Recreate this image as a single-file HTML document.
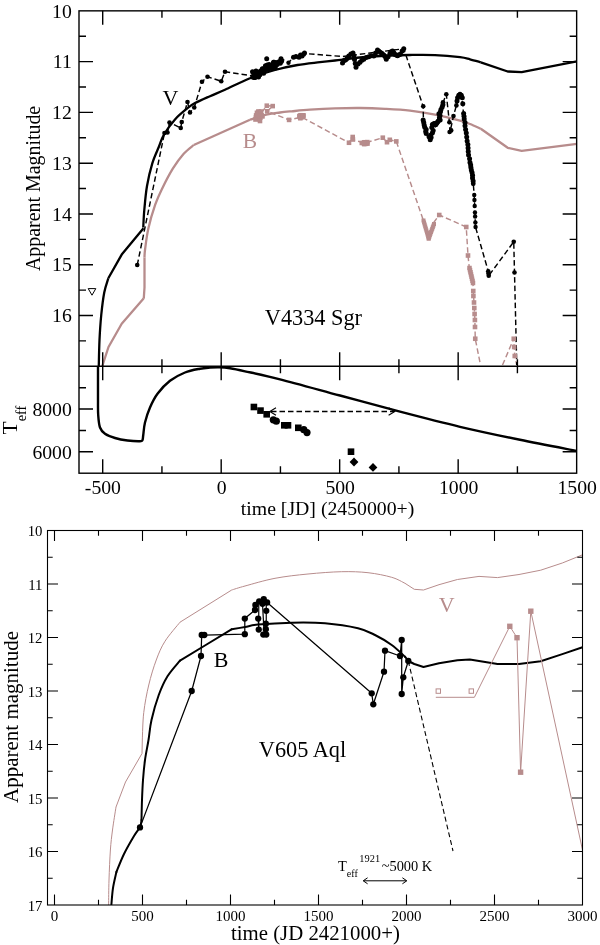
<!DOCTYPE html>
<html><head><meta charset="utf-8"><title>Light curves</title>
<style>html,body{margin:0;padding:0;background:#fff;}svg{display:block;will-change:transform}text{font-family:"Liberation Serif",serif}</style>
</head><body>
<svg width="600" height="945" viewBox="0 0 600 945">
<rect width="600" height="945" fill="#fff"/>
<clipPath id="c1"><rect x="79.0" y="10.85" width="497.65" height="355.45"/></clipPath>
<clipPath id="c2"><rect x="79.0" y="366.3" width="497.65" height="106.89999999999998"/></clipPath>
<g clip-path="url(#c1)" fill="none" stroke-linejoin="round">
<path d="M101.80,367.50 L108.50,347.00 L121.70,323.80 L143.60,298.60" stroke="#b78c8c" stroke-width="2.3"/>
<path d="M144.50,257.50 C144.58,256.25 144.37,254.80 145.00,250.00 C145.63,245.20 146.60,236.25 148.30,228.70 C150.00,221.15 152.90,211.37 155.20,204.70 C157.50,198.03 159.17,194.70 162.10,188.70 C165.03,182.70 169.23,174.48 172.80,168.70 C176.37,162.92 180.01,157.95 183.50,154.00 C186.99,150.05 192.04,146.50 193.75,145.00" stroke="#b78c8c" stroke-width="2.3"/>
<path d="M143.75,298.75 L144.50,287.50 L144.50,257.50" stroke="#b78c8c" stroke-width="2.3"/>
<path d="M250.00,119.70 C252.92,118.80 262.50,115.50 267.50,114.30 C272.50,113.10 275.97,113.00 280.00,112.50 C284.03,112.00 286.70,111.77 291.70,111.30 C296.70,110.83 302.78,110.18 310.00,109.70 C317.22,109.22 326.67,108.68 335.00,108.40 C343.33,108.12 351.67,107.93 360.00,108.00 C368.33,108.07 376.67,108.37 385.00,108.80 C393.33,109.23 401.67,109.63 410.00,110.60 C418.33,111.57 426.67,112.93 435.00,114.60 C443.33,116.27 454.17,119.03 460.00,120.60 C465.83,122.17 466.53,122.65 470.00,124.00 C473.47,125.35 479.00,127.92 480.80,128.70" stroke="#b78c8c" stroke-width="2.3"/>
<path d="M480.80,128.70 L507.70,147.80 L521.70,150.80 L577.00,143.80" stroke="#b78c8c" stroke-width="2.3"/>
<path d="M193.75,145.00 L250.00,119.70" stroke="#b78c8c" stroke-width="2.3"/>
<path d="M98.75,367.50 C98.88,362.92 99.08,348.75 99.50,340.00 C99.92,331.25 100.46,322.92 101.25,315.00 C102.04,307.08 103.08,298.62 104.25,292.50 C105.42,286.38 107.62,280.67 108.30,278.30" stroke="#000" stroke-width="2.3"/>
<path d="M108.30,278.30 L121.70,254.60 L143.50,228.20" stroke="#000" stroke-width="2.3"/>
<path d="M143.25,227.50 C143.43,224.58 143.68,216.92 144.30,210.00 C144.93,203.08 145.67,193.78 147.00,186.00 C148.33,178.22 150.30,169.88 152.30,163.30 C154.30,156.72 157.05,151.30 159.00,146.50 C160.95,141.70 161.33,139.02 164.00,134.50 C166.67,129.98 171.08,123.78 175.00,119.40 C178.92,115.02 184.17,110.92 187.50,108.20 C190.83,105.48 191.25,105.10 195.00,103.10 C198.75,101.10 205.00,98.42 210.00,96.20 C215.00,93.98 218.33,92.80 225.00,89.80 C231.67,86.80 241.67,81.50 250.00,78.20 C258.33,74.90 267.08,72.20 275.00,70.00 C282.92,67.80 290.00,66.30 297.50,65.00 C305.00,63.70 313.75,62.95 320.00,62.20 C326.25,61.45 328.33,61.28 335.00,60.50 C341.67,59.72 351.67,58.29 360.00,57.50 C368.33,56.71 376.67,56.17 385.00,55.75 C393.33,55.33 401.67,55.11 410.00,55.00 C418.33,54.89 426.67,54.73 435.00,55.10 C443.33,55.47 454.17,56.50 460.00,57.20 C465.83,57.90 466.53,58.45 470.00,59.30 C473.47,60.15 479.00,61.80 480.80,62.30" stroke="#000" stroke-width="2.3"/>
<path d="M480.80,62.30 L507.70,71.50 L521.70,72.20 L577.00,61.40" stroke="#000" stroke-width="2.3"/>
<path d="M256.00,119.00 L259.00,116.00 L266.80,105.70 L272.70,106.10 L267.20,111.30 L289.10,119.90 L301.50,117.00 L349.00,142.75 L352.70,137.00 L353.00,140.00 L365.00,143.00 L382.80,137.70 L387.00,142.20 L389.80,139.80 L396.30,141.40 L423.75,221.50 L428.75,238.75 L433.75,222.50 L439.25,215.00 L466.25,227.00 L468.00,255.50 L469.50,270.00 L473.00,282.50 L473.25,291.00 L474.00,302.50 L474.30,308.00 L474.60,314.00 L474.90,320.00 L475.00,327.00 L475.25,338.75 L480.50,365.00" stroke="#b78c8c" stroke-width="1.45" stroke-dasharray="5.5,3"/>
<path d="M502.50,365.00 L513.75,338.75 L514.20,347.00 L514.75,356.00 L516.75,365.00" stroke="#b78c8c" stroke-width="1.45" stroke-dasharray="5.5,3"/>
<path d="M137.25,265.00 L164.50,133.00 L167.50,132.50 L169.50,122.50 L180.75,128.00 L181.75,122.00 L187.50,102.00 L190.00,112.50 L194.25,107.50 L202.00,81.75 L207.50,76.75 L221.25,81.25 L225.00,71.75 L253.50,76.00 L282.00,59.00 L288.50,62.80 L293.50,57.20 L304.50,53.50 L342.50,56.50 L403.75,48.75 L423.20,106.40 L423.40,120.00 L429.60,139.80 L436.00,124.70 L443.00,102.50 L446.30,94.30 L449.40,122.30 L450.00,132.00 L453.50,116.00 L456.40,105.40 L460.00,94.30 L462.80,103.70 L463.40,113.60 L468.70,155.00 L473.25,183.75 L474.25,195.00 L475.50,227.00 L488.25,271.25 L488.75,275.75 L513.75,241.75 L514.50,272.50 L516.75,365.00" stroke="#000" stroke-width="1.45" stroke-dasharray="5.5,3"/>
</g>
<g clip-path="url(#c1)">
<rect x="264.50" y="103.40" width="4.6" height="4.6" fill="#b78c8c"/>
<rect x="270.40" y="103.80" width="4.6" height="4.6" fill="#b78c8c"/>
<rect x="264.90" y="109.00" width="4.6" height="4.6" fill="#b78c8c"/>
<rect x="286.80" y="117.60" width="4.6" height="4.6" fill="#b78c8c"/>
<rect x="346.70" y="140.45" width="4.6" height="4.6" fill="#b78c8c"/>
<rect x="350.40" y="134.70" width="4.6" height="4.6" fill="#b78c8c"/>
<rect x="350.60" y="137.20" width="4.6" height="4.6" fill="#b78c8c"/>
<rect x="380.50" y="135.40" width="4.6" height="4.6" fill="#b78c8c"/>
<rect x="384.70" y="139.90" width="4.6" height="4.6" fill="#b78c8c"/>
<rect x="387.50" y="137.50" width="4.6" height="4.6" fill="#b78c8c"/>
<rect x="394.00" y="139.10" width="4.6" height="4.6" fill="#b78c8c"/>
<rect x="436.95" y="212.70" width="4.6" height="4.6" fill="#b78c8c"/>
<rect x="463.95" y="224.70" width="4.6" height="4.6" fill="#b78c8c"/>
<rect x="465.70" y="253.20" width="4.6" height="4.6" fill="#b78c8c"/>
<rect x="470.95" y="288.70" width="4.6" height="4.6" fill="#b78c8c"/>
<rect x="471.10" y="293.70" width="4.6" height="4.6" fill="#b78c8c"/>
<rect x="471.70" y="300.20" width="4.6" height="4.6" fill="#b78c8c"/>
<rect x="472.00" y="305.70" width="4.6" height="4.6" fill="#b78c8c"/>
<rect x="472.30" y="311.70" width="4.6" height="4.6" fill="#b78c8c"/>
<rect x="472.60" y="317.70" width="4.6" height="4.6" fill="#b78c8c"/>
<rect x="472.70" y="324.70" width="4.6" height="4.6" fill="#b78c8c"/>
<rect x="472.95" y="336.45" width="4.6" height="4.6" fill="#b78c8c"/>
<rect x="511.45" y="336.45" width="4.6" height="4.6" fill="#b78c8c"/>
<rect x="511.90" y="344.70" width="4.6" height="4.6" fill="#b78c8c"/>
<rect x="512.45" y="353.70" width="4.6" height="4.6" fill="#b78c8c"/>
<rect x="257.10" y="117.08" width="4.6" height="4.6" fill="#b78c8c"/>
<rect x="254.99" y="116.31" width="4.6" height="4.6" fill="#b78c8c"/>
<rect x="256.25" y="112.86" width="4.6" height="4.6" fill="#b78c8c"/>
<rect x="260.18" y="114.05" width="4.6" height="4.6" fill="#b78c8c"/>
<rect x="256.80" y="115.92" width="4.6" height="4.6" fill="#b78c8c"/>
<rect x="259.37" y="113.61" width="4.6" height="4.6" fill="#b78c8c"/>
<rect x="258.18" y="110.98" width="4.6" height="4.6" fill="#b78c8c"/>
<rect x="256.00" y="112.33" width="4.6" height="4.6" fill="#b78c8c"/>
<rect x="254.68" y="110.49" width="4.6" height="4.6" fill="#b78c8c"/>
<rect x="253.83" y="113.13" width="4.6" height="4.6" fill="#b78c8c"/>
<rect x="256.47" y="112.68" width="4.6" height="4.6" fill="#b78c8c"/>
<rect x="257.04" y="110.17" width="4.6" height="4.6" fill="#b78c8c"/>
<rect x="256.70" y="114.47" width="4.6" height="4.6" fill="#b78c8c"/>
<rect x="258.54" y="111.33" width="4.6" height="4.6" fill="#b78c8c"/>
<rect x="256.24" y="109.47" width="4.6" height="4.6" fill="#b78c8c"/>
<rect x="256.13" y="109.40" width="4.6" height="4.6" fill="#b78c8c"/>
<rect x="254.35" y="116.22" width="4.6" height="4.6" fill="#b78c8c"/>
<rect x="253.63" y="115.22" width="4.6" height="4.6" fill="#b78c8c"/>
<rect x="257.71" y="112.71" width="4.6" height="4.6" fill="#b78c8c"/>
<rect x="258.00" y="115.32" width="4.6" height="4.6" fill="#b78c8c"/>
<rect x="259.22" y="113.05" width="4.6" height="4.6" fill="#b78c8c"/>
<rect x="255.52" y="111.90" width="4.6" height="4.6" fill="#b78c8c"/>
<rect x="253.20" y="117.20" width="4.6" height="4.6" fill="#b78c8c"/>
<rect x="257.70" y="118.70" width="4.6" height="4.6" fill="#b78c8c"/>
<rect x="258.70" y="109.20" width="4.6" height="4.6" fill="#b78c8c"/>
<rect x="297.59" y="114.64" width="4.6" height="4.6" fill="#b78c8c"/>
<rect x="298.02" y="115.93" width="4.6" height="4.6" fill="#b78c8c"/>
<rect x="297.07" y="113.74" width="4.6" height="4.6" fill="#b78c8c"/>
<rect x="298.16" y="112.95" width="4.6" height="4.6" fill="#b78c8c"/>
<rect x="300.80" y="113.14" width="4.6" height="4.6" fill="#b78c8c"/>
<rect x="298.70" y="113.99" width="4.6" height="4.6" fill="#b78c8c"/>
<rect x="300.84" y="113.19" width="4.6" height="4.6" fill="#b78c8c"/>
<rect x="300.82" y="113.85" width="4.6" height="4.6" fill="#b78c8c"/>
<rect x="298.93" y="113.80" width="4.6" height="4.6" fill="#b78c8c"/>
<rect x="300.17" y="113.38" width="4.6" height="4.6" fill="#b78c8c"/>
<rect x="299.06" y="115.19" width="4.6" height="4.6" fill="#b78c8c"/>
<rect x="300.77" y="113.12" width="4.6" height="4.6" fill="#b78c8c"/>
<rect x="365.13" y="141.31" width="4.6" height="4.6" fill="#b78c8c"/>
<rect x="361.65" y="140.97" width="4.6" height="4.6" fill="#b78c8c"/>
<rect x="361.94" y="141.80" width="4.6" height="4.6" fill="#b78c8c"/>
<rect x="363.17" y="140.50" width="4.6" height="4.6" fill="#b78c8c"/>
<rect x="362.19" y="140.52" width="4.6" height="4.6" fill="#b78c8c"/>
<rect x="362.34" y="139.97" width="4.6" height="4.6" fill="#b78c8c"/>
<rect x="365.02" y="139.82" width="4.6" height="4.6" fill="#b78c8c"/>
<rect x="359.50" y="140.66" width="4.6" height="4.6" fill="#b78c8c"/>
<rect x="362.37" y="141.04" width="4.6" height="4.6" fill="#b78c8c"/>
<rect x="362.24" y="140.56" width="4.6" height="4.6" fill="#b78c8c"/>
<rect x="363.36" y="141.49" width="4.6" height="4.6" fill="#b78c8c"/>
<rect x="361.73" y="140.37" width="4.6" height="4.6" fill="#b78c8c"/>
<rect x="421.50" y="218.50" width="4" height="4" fill="#b78c8c"/>
<rect x="432.00" y="222.00" width="4" height="4" fill="#b78c8c"/>
<rect x="422.08" y="220.50" width="4" height="4" fill="#b78c8c"/>
<rect x="431.41" y="223.61" width="4" height="4" fill="#b78c8c"/>
<rect x="422.66" y="222.50" width="4" height="4" fill="#b78c8c"/>
<rect x="430.82" y="225.22" width="4" height="4" fill="#b78c8c"/>
<rect x="423.23" y="224.50" width="4" height="4" fill="#b78c8c"/>
<rect x="430.23" y="226.83" width="4" height="4" fill="#b78c8c"/>
<rect x="423.81" y="226.50" width="4" height="4" fill="#b78c8c"/>
<rect x="429.64" y="228.44" width="4" height="4" fill="#b78c8c"/>
<rect x="424.39" y="228.50" width="4" height="4" fill="#b78c8c"/>
<rect x="429.06" y="230.06" width="4" height="4" fill="#b78c8c"/>
<rect x="424.97" y="230.50" width="4" height="4" fill="#b78c8c"/>
<rect x="428.47" y="231.67" width="4" height="4" fill="#b78c8c"/>
<rect x="425.54" y="232.50" width="4" height="4" fill="#b78c8c"/>
<rect x="427.88" y="233.28" width="4" height="4" fill="#b78c8c"/>
<rect x="426.12" y="234.50" width="4" height="4" fill="#b78c8c"/>
<rect x="427.29" y="234.89" width="4" height="4" fill="#b78c8c"/>
<rect x="426.70" y="236.50" width="4" height="4" fill="#b78c8c"/>
<rect x="426.70" y="236.50" width="4" height="4" fill="#b78c8c"/>
<rect x="467.25" y="265.75" width="4.5" height="4.5" fill="#b78c8c"/>
<rect x="467.75" y="267.89" width="4.5" height="4.5" fill="#b78c8c"/>
<rect x="468.25" y="270.04" width="4.5" height="4.5" fill="#b78c8c"/>
<rect x="468.75" y="272.18" width="4.5" height="4.5" fill="#b78c8c"/>
<rect x="469.25" y="274.32" width="4.5" height="4.5" fill="#b78c8c"/>
<rect x="469.75" y="276.46" width="4.5" height="4.5" fill="#b78c8c"/>
<rect x="470.25" y="278.61" width="4.5" height="4.5" fill="#b78c8c"/>
<rect x="470.75" y="280.75" width="4.5" height="4.5" fill="#b78c8c"/>
<circle cx="137.25" cy="265.00" r="2.3" fill="#000"/>
<circle cx="164.50" cy="133.00" r="2.3" fill="#000"/>
<circle cx="167.50" cy="132.50" r="2.3" fill="#000"/>
<circle cx="169.50" cy="122.50" r="2.3" fill="#000"/>
<circle cx="180.75" cy="128.00" r="2.3" fill="#000"/>
<circle cx="181.75" cy="122.00" r="2.3" fill="#000"/>
<circle cx="187.50" cy="102.00" r="2.3" fill="#000"/>
<circle cx="190.00" cy="112.50" r="2.3" fill="#000"/>
<circle cx="194.25" cy="107.50" r="2.3" fill="#000"/>
<circle cx="202.00" cy="81.75" r="2.3" fill="#000"/>
<circle cx="207.50" cy="76.75" r="2.3" fill="#000"/>
<circle cx="221.25" cy="81.25" r="2.3" fill="#000"/>
<circle cx="225.00" cy="71.75" r="2.3" fill="#000"/>
<circle cx="423.25" cy="106.25" r="2.3" fill="#000"/>
<circle cx="488.25" cy="271.25" r="2.3" fill="#000"/>
<circle cx="488.75" cy="275.75" r="2.3" fill="#000"/>
<circle cx="488.50" cy="273.50" r="2.3" fill="#000"/>
<circle cx="513.75" cy="241.75" r="2.3" fill="#000"/>
<circle cx="514.50" cy="272.50" r="2.3" fill="#000"/>
<circle cx="252.50" cy="71.80" r="2.5" fill="#000"/>
<circle cx="253.12" cy="77.30" r="2.5" fill="#000"/>
<circle cx="253.73" cy="73.14" r="2.5" fill="#000"/>
<circle cx="254.35" cy="77.38" r="2.5" fill="#000"/>
<circle cx="254.97" cy="76.67" r="2.5" fill="#000"/>
<circle cx="255.59" cy="72.76" r="2.5" fill="#000"/>
<circle cx="256.20" cy="73.06" r="2.5" fill="#000"/>
<circle cx="256.82" cy="73.20" r="2.5" fill="#000"/>
<circle cx="257.44" cy="73.79" r="2.5" fill="#000"/>
<circle cx="258.05" cy="73.18" r="2.5" fill="#000"/>
<circle cx="258.67" cy="72.65" r="2.5" fill="#000"/>
<circle cx="259.29" cy="72.80" r="2.5" fill="#000"/>
<circle cx="259.90" cy="74.77" r="2.5" fill="#000"/>
<circle cx="260.52" cy="71.45" r="2.5" fill="#000"/>
<circle cx="261.14" cy="70.65" r="2.5" fill="#000"/>
<circle cx="261.76" cy="72.39" r="2.5" fill="#000"/>
<circle cx="262.37" cy="68.74" r="2.5" fill="#000"/>
<circle cx="262.99" cy="68.91" r="2.5" fill="#000"/>
<circle cx="263.61" cy="73.37" r="2.5" fill="#000"/>
<circle cx="264.22" cy="69.89" r="2.5" fill="#000"/>
<circle cx="264.84" cy="69.81" r="2.5" fill="#000"/>
<circle cx="265.46" cy="65.77" r="2.5" fill="#000"/>
<circle cx="266.07" cy="68.32" r="2.5" fill="#000"/>
<circle cx="266.69" cy="69.20" r="2.5" fill="#000"/>
<circle cx="267.31" cy="65.00" r="2.5" fill="#000"/>
<circle cx="267.93" cy="68.90" r="2.5" fill="#000"/>
<circle cx="268.54" cy="68.73" r="2.5" fill="#000"/>
<circle cx="269.16" cy="64.45" r="2.5" fill="#000"/>
<circle cx="269.78" cy="68.15" r="2.5" fill="#000"/>
<circle cx="270.39" cy="66.74" r="2.5" fill="#000"/>
<circle cx="271.01" cy="67.96" r="2.5" fill="#000"/>
<circle cx="271.63" cy="65.39" r="2.5" fill="#000"/>
<circle cx="272.24" cy="67.60" r="2.5" fill="#000"/>
<circle cx="272.86" cy="67.54" r="2.5" fill="#000"/>
<circle cx="273.48" cy="62.25" r="2.5" fill="#000"/>
<circle cx="274.10" cy="62.24" r="2.5" fill="#000"/>
<circle cx="274.71" cy="66.27" r="2.5" fill="#000"/>
<circle cx="275.33" cy="68.01" r="2.5" fill="#000"/>
<circle cx="275.95" cy="62.75" r="2.5" fill="#000"/>
<circle cx="276.56" cy="63.91" r="2.5" fill="#000"/>
<circle cx="277.18" cy="64.58" r="2.5" fill="#000"/>
<circle cx="277.80" cy="62.40" r="2.5" fill="#000"/>
<circle cx="278.41" cy="62.43" r="2.5" fill="#000"/>
<circle cx="279.03" cy="61.80" r="2.5" fill="#000"/>
<circle cx="279.65" cy="61.91" r="2.5" fill="#000"/>
<circle cx="280.27" cy="63.22" r="2.5" fill="#000"/>
<circle cx="280.88" cy="60.88" r="2.5" fill="#000"/>
<circle cx="281.50" cy="61.14" r="2.5" fill="#000"/>
<circle cx="253.00" cy="76.50" r="2.5" fill="#000"/>
<circle cx="255.00" cy="77.50" r="2.5" fill="#000"/>
<circle cx="258.50" cy="77.00" r="2.5" fill="#000"/>
<circle cx="256.00" cy="71.00" r="2.5" fill="#000"/>
<circle cx="266.70" cy="58.80" r="2.5" fill="#000"/>
<circle cx="281.00" cy="58.80" r="2.5" fill="#000"/>
<circle cx="259.00" cy="72.00" r="2.5" fill="#000"/>
<circle cx="262.00" cy="70.00" r="2.5" fill="#000"/>
<circle cx="288.50" cy="62.80" r="2.2" fill="#000"/>
<circle cx="293.50" cy="57.20" r="2.5" fill="#000"/>
<circle cx="296.00" cy="56.50" r="2.5" fill="#000"/>
<circle cx="299.00" cy="57.20" r="2.5" fill="#000"/>
<circle cx="300.50" cy="55.00" r="2.5" fill="#000"/>
<circle cx="302.00" cy="56.00" r="2.5" fill="#000"/>
<circle cx="303.50" cy="54.20" r="2.5" fill="#000"/>
<circle cx="304.50" cy="53.00" r="2.5" fill="#000"/>
<circle cx="342.50" cy="62.94" r="2.5" fill="#000"/>
<circle cx="344.00" cy="60.49" r="2.5" fill="#000"/>
<circle cx="345.50" cy="60.11" r="2.5" fill="#000"/>
<circle cx="347.15" cy="58.48" r="2.5" fill="#000"/>
<circle cx="348.80" cy="55.90" r="2.5" fill="#000"/>
<circle cx="350.90" cy="53.91" r="2.5" fill="#000"/>
<circle cx="353.00" cy="52.99" r="2.5" fill="#000"/>
<circle cx="353.75" cy="55.83" r="2.5" fill="#000"/>
<circle cx="354.50" cy="59.50" r="2.5" fill="#000"/>
<circle cx="355.25" cy="63.40" r="2.5" fill="#000"/>
<circle cx="356.00" cy="67.32" r="2.5" fill="#000"/>
<circle cx="358.00" cy="64.11" r="2.5" fill="#000"/>
<circle cx="360.00" cy="62.22" r="2.5" fill="#000"/>
<circle cx="361.88" cy="60.36" r="2.5" fill="#000"/>
<circle cx="363.75" cy="59.28" r="2.5" fill="#000"/>
<circle cx="366.25" cy="57.40" r="2.5" fill="#000"/>
<circle cx="368.75" cy="56.82" r="2.5" fill="#000"/>
<circle cx="371.25" cy="55.72" r="2.5" fill="#000"/>
<circle cx="373.75" cy="55.99" r="2.5" fill="#000"/>
<circle cx="375.62" cy="53.12" r="2.5" fill="#000"/>
<circle cx="377.50" cy="50.12" r="2.5" fill="#000"/>
<circle cx="379.00" cy="51.17" r="2.5" fill="#000"/>
<circle cx="380.50" cy="52.56" r="2.5" fill="#000"/>
<circle cx="382.12" cy="53.39" r="2.5" fill="#000"/>
<circle cx="383.75" cy="55.05" r="2.5" fill="#000"/>
<circle cx="385.00" cy="56.38" r="2.5" fill="#000"/>
<circle cx="386.25" cy="59.24" r="2.5" fill="#000"/>
<circle cx="388.12" cy="56.79" r="2.5" fill="#000"/>
<circle cx="390.00" cy="53.24" r="2.5" fill="#000"/>
<circle cx="391.25" cy="51.77" r="2.5" fill="#000"/>
<circle cx="392.50" cy="50.99" r="2.5" fill="#000"/>
<circle cx="393.75" cy="52.48" r="2.5" fill="#000"/>
<circle cx="395.00" cy="54.49" r="2.5" fill="#000"/>
<circle cx="396.25" cy="54.88" r="2.5" fill="#000"/>
<circle cx="397.50" cy="55.66" r="2.5" fill="#000"/>
<circle cx="399.00" cy="54.67" r="2.5" fill="#000"/>
<circle cx="400.50" cy="54.22" r="2.5" fill="#000"/>
<circle cx="402.12" cy="50.88" r="2.5" fill="#000"/>
<circle cx="403.75" cy="48.75" r="2.5" fill="#000"/>
<circle cx="423.15" cy="120.00" r="2.5" fill="#000"/>
<circle cx="423.72" cy="122.50" r="2.5" fill="#000"/>
<circle cx="424.17" cy="125.00" r="2.5" fill="#000"/>
<circle cx="424.76" cy="127.25" r="2.5" fill="#000"/>
<circle cx="426.17" cy="129.50" r="2.5" fill="#000"/>
<circle cx="425.70" cy="131.50" r="2.5" fill="#000"/>
<circle cx="426.21" cy="133.50" r="2.5" fill="#000"/>
<circle cx="429.01" cy="136.65" r="2.5" fill="#000"/>
<circle cx="430.21" cy="139.80" r="2.5" fill="#000"/>
<circle cx="431.08" cy="137.40" r="2.5" fill="#000"/>
<circle cx="430.89" cy="135.00" r="2.5" fill="#000"/>
<circle cx="432.47" cy="132.75" r="2.5" fill="#000"/>
<circle cx="433.18" cy="130.50" r="2.5" fill="#000"/>
<circle cx="431.81" cy="127.50" r="2.5" fill="#000"/>
<circle cx="432.39" cy="124.50" r="2.5" fill="#000"/>
<circle cx="433.54" cy="124.00" r="2.5" fill="#000"/>
<circle cx="434.26" cy="123.50" r="2.5" fill="#000"/>
<circle cx="435.03" cy="124.10" r="2.5" fill="#000"/>
<circle cx="435.66" cy="124.70" r="2.5" fill="#000"/>
<circle cx="436.75" cy="123.35" r="2.5" fill="#000"/>
<circle cx="437.56" cy="122.00" r="2.5" fill="#000"/>
<circle cx="438.31" cy="121.00" r="2.5" fill="#000"/>
<circle cx="440.14" cy="120.00" r="2.5" fill="#000"/>
<circle cx="439.41" cy="117.75" r="2.5" fill="#000"/>
<circle cx="440.00" cy="115.50" r="2.5" fill="#000"/>
<circle cx="438.92" cy="113.65" r="2.5" fill="#000"/>
<circle cx="440.45" cy="111.80" r="2.5" fill="#000"/>
<circle cx="440.96" cy="109.40" r="2.5" fill="#000"/>
<circle cx="442.18" cy="107.00" r="2.5" fill="#000"/>
<circle cx="442.88" cy="104.75" r="2.5" fill="#000"/>
<circle cx="443.00" cy="102.50" r="2.4" fill="#000"/>
<circle cx="446.30" cy="94.30" r="2.3" fill="#000"/>
<circle cx="449.40" cy="122.30" r="2.3" fill="#000"/>
<circle cx="449.60" cy="132.00" r="2.3" fill="#000"/>
<circle cx="451.20" cy="130.40" r="2.3" fill="#000"/>
<circle cx="453.50" cy="116.00" r="2.3" fill="#000"/>
<circle cx="456.40" cy="105.40" r="2.3" fill="#000"/>
<circle cx="457.00" cy="101.00" r="2.5" fill="#000"/>
<circle cx="457.60" cy="97.80" r="2.5" fill="#000"/>
<circle cx="458.80" cy="95.20" r="2.5" fill="#000"/>
<circle cx="460.00" cy="94.30" r="2.5" fill="#000"/>
<circle cx="461.30" cy="95.20" r="2.5" fill="#000"/>
<circle cx="462.30" cy="97.80" r="2.5" fill="#000"/>
<circle cx="462.80" cy="103.70" r="2.5" fill="#000"/>
<circle cx="463.64" cy="113.60" r="2.5" fill="#000"/>
<circle cx="464.00" cy="116.30" r="2.5" fill="#000"/>
<circle cx="464.21" cy="119.00" r="2.5" fill="#000"/>
<circle cx="465.00" cy="122.40" r="2.5" fill="#000"/>
<circle cx="465.00" cy="125.80" r="2.5" fill="#000"/>
<circle cx="465.58" cy="129.40" r="2.5" fill="#000"/>
<circle cx="466.30" cy="133.00" r="2.5" fill="#000"/>
<circle cx="466.71" cy="137.00" r="2.5" fill="#000"/>
<circle cx="467.15" cy="141.00" r="2.5" fill="#000"/>
<circle cx="467.86" cy="144.50" r="2.5" fill="#000"/>
<circle cx="468.07" cy="148.00" r="2.5" fill="#000"/>
<circle cx="468.25" cy="151.50" r="2.5" fill="#000"/>
<circle cx="468.55" cy="155.00" r="2.5" fill="#000"/>
<circle cx="469.57" cy="158.75" r="2.5" fill="#000"/>
<circle cx="469.99" cy="162.50" r="2.5" fill="#000"/>
<circle cx="470.67" cy="165.00" r="2.5" fill="#000"/>
<circle cx="470.91" cy="167.50" r="2.5" fill="#000"/>
<circle cx="471.32" cy="170.00" r="2.5" fill="#000"/>
<circle cx="472.02" cy="172.50" r="2.5" fill="#000"/>
<circle cx="472.54" cy="175.25" r="2.5" fill="#000"/>
<circle cx="472.50" cy="178.00" r="2.5" fill="#000"/>
<circle cx="473.15" cy="180.88" r="2.5" fill="#000"/>
<circle cx="473.25" cy="183.75" r="2.4" fill="#000"/>
<circle cx="474.25" cy="195.00" r="2.2" fill="#000"/>
<circle cx="474.45" cy="200.00" r="2.2" fill="#000"/>
<circle cx="474.70" cy="206.00" r="2.2" fill="#000"/>
<circle cx="474.96" cy="212.50" r="2.2" fill="#000"/>
<circle cx="475.12" cy="216.50" r="2.2" fill="#000"/>
<circle cx="475.37" cy="222.50" r="2.2" fill="#000"/>
<circle cx="475.55" cy="227.00" r="2.2" fill="#000"/>
</g>
<path d="M88.2,288.6 L95.8,288.6 L92,295.2 Z" fill="none" stroke="#000" stroke-width="1"/>
<g clip-path="url(#c2)" fill="none">
<path d="M98.00,366.00 C98.00,371.67 97.97,391.83 98.00,400.00 C98.03,408.17 97.87,410.42 98.20,415.00 C98.53,419.58 98.87,424.38 100.00,427.50 C101.13,430.62 102.50,432.00 105.00,433.75 C107.50,435.50 111.25,436.88 115.00,438.00 C118.75,439.12 123.33,439.96 127.50,440.50 C131.67,441.04 137.50,441.33 140.00,441.25 C142.50,441.17 141.96,441.04 142.50,440.00 C143.04,438.96 142.83,437.92 143.25,435.00 C143.67,432.08 143.88,427.08 145.00,422.50 C146.12,417.92 147.92,412.29 150.00,407.50 C152.08,402.71 154.17,398.20 157.50,393.75 C160.83,389.30 165.42,384.34 170.00,380.80 C174.58,377.26 180.00,374.52 185.00,372.50 C190.00,370.48 195.83,369.52 200.00,368.70 C204.17,367.88 206.75,367.83 210.00,367.60 C213.25,367.37 216.17,367.18 219.50,367.30 C222.83,367.42 225.75,367.63 230.00,368.30 C234.25,368.97 236.67,369.47 245.00,371.30 C253.33,373.13 264.17,375.27 280.00,379.30 C295.83,383.33 320.00,390.10 340.00,395.50 C360.00,400.90 380.00,406.48 400.00,411.70 C420.00,416.92 440.00,422.12 460.00,426.80 C480.00,431.48 500.50,435.78 520.00,439.80 C539.50,443.82 567.50,449.05 577.00,450.90" stroke="#000" stroke-width="2.4"/>
</g>
<rect x="250.60" y="403.70" width="6.6" height="6.6" fill="#000"/>
<rect x="257.20" y="407.30" width="6.6" height="6.6" fill="#000"/>
<rect x="263.40" y="411.00" width="6.6" height="6.6" fill="#000"/>
<rect x="281.00" y="422.00" width="6.6" height="6.6" fill="#000"/>
<rect x="284.70" y="422.00" width="6.6" height="6.6" fill="#000"/>
<rect x="295.00" y="424.50" width="6.6" height="6.6" fill="#000"/>
<rect x="347.70" y="448.40" width="6.6" height="6.6" fill="#000"/>
<circle cx="273.30" cy="419.80" r="3.6" fill="#000"/>
<circle cx="276.30" cy="421.20" r="3.6" fill="#000"/>
<circle cx="303.80" cy="429.70" r="3.6" fill="#000"/>
<circle cx="307.00" cy="432.60" r="3.6" fill="#000"/>
<path d="M349.6,462 L354,457.6 L358.4,462 L354,466.4 Z" fill="#000"/>
<path d="M368.6,467.4 L373,463.0 L377.4,467.4 L373,471.79999999999995 Z" fill="#000"/>
<path d="M271,411.5 L394,411.5" stroke="#000" stroke-width="1.3" stroke-dasharray="5.5,3" fill="none"/>
<path d="M276,407.8 L269.8,411.5 L276,415.2 M388.6,407.8 L394.8,411.5 L388.6,415.2" stroke="#000" stroke-width="1.1" fill="none"/>
<g stroke="#000" stroke-width="1.4" fill="none" stroke-linecap="butt">
<rect x="79.0" y="10.85" width="497.65" height="462.34999999999997"/>
<path d="M79.0,366.3 L576.65,366.3"/>
<path d="M102.70,10.85 v14 M102.70,352.3 v28 M102.70,473.2 v-14 M161.94,10.85 v7 M161.94,359.3 v14 M161.94,473.2 v-7 M221.19,10.85 v14 M221.19,352.3 v28 M221.19,473.2 v-14 M280.43,10.85 v7 M280.43,359.3 v14 M280.43,473.2 v-7 M339.67,10.85 v14 M339.67,352.3 v28 M339.67,473.2 v-14 M398.92,10.85 v7 M398.92,359.3 v14 M398.92,473.2 v-7 M458.16,10.85 v14 M458.16,352.3 v28 M458.16,473.2 v-14 M517.41,10.85 v7 M517.41,359.3 v14 M517.41,473.2 v-7 M79.0,36.24 h7 M576.65,36.24 h-7 M79.0,61.63 h14 M576.65,61.63 h-14 M79.0,87.02 h7 M576.65,87.02 h-7 M79.0,112.41 h14 M576.65,112.41 h-14 M79.0,137.80 h7 M576.65,137.80 h-7 M79.0,163.19 h14 M576.65,163.19 h-14 M79.0,188.57 h7 M576.65,188.57 h-7 M79.0,213.96 h14 M576.65,213.96 h-14 M79.0,239.35 h7 M576.65,239.35 h-7 M79.0,264.74 h14 M576.65,264.74 h-14 M79.0,290.13 h7 M576.65,290.13 h-7 M79.0,315.52 h14 M576.65,315.52 h-14 M79.0,340.91 h7 M576.65,340.91 h-7 M79.0,387.68 h7 M576.65,387.68 h-7 M79.0,409.06 h14 M576.65,409.06 h-14 M79.0,430.44 h7 M576.65,430.44 h-7 M79.0,451.82 h14 M576.65,451.82 h-14 "/>
</g>
<g font-family="Liberation Serif, serif" fill="#000">
<g font-size="19.7" text-anchor="end">
<text x="71.8" y="17.55">10</text>
<text x="71.8" y="68.33">11</text>
<text x="71.8" y="119.11">12</text>
<text x="71.8" y="169.89">13</text>
<text x="71.8" y="220.66">14</text>
<text x="71.8" y="271.44">15</text>
<text x="71.8" y="322.22">16</text>
<text x="71.8" y="415.76">8000</text>
<text x="71.8" y="458.52">6000</text>
</g>
<g font-size="19.7" text-anchor="middle">
<text x="102.90" y="494.4">-500</text>
<text x="221.69" y="494.4">0</text>
<text x="340.17" y="494.4">500</text>
<text x="458.66" y="494.4">1000</text>
<text x="577.15" y="494.4">1500</text>
</g>
<text x="240.8" y="514.8" font-size="19.75" text-anchor="start" id="xl1">time [JD] (2450000+)</text>
<text transform="translate(39.6,271) rotate(-90)" font-size="19.9" id="yl1">Apparent Magnitude</text>
<text transform="translate(16.9,434.5) rotate(-90)" font-size="21.5" id="yl2">T<tspan font-size="14.4" dy="8.7">eff</tspan></text>
<text x="264.8" y="325.3" font-size="22.3" id="t1">V4334 Sgr</text>
<text x="162.6" y="105" font-size="22">V</text>
<text x="242.8" y="148" font-size="21.5" fill="#b78c8c">B</text>
</g>
<clipPath id="c3"><rect x="47.5" y="530.5" width="535.0" height="374.5"/></clipPath>
<g clip-path="url(#c3)" fill="none" stroke-linejoin="round">
<path d="M108.60,905.00 C108.67,900.83 108.70,889.17 109.00,880.00 C109.30,870.83 109.82,858.33 110.40,850.00 C110.98,841.67 111.57,837.17 112.50,830.00 C113.43,822.83 115.42,810.83 116.00,807.00" stroke="#b78c8c" stroke-width="1.0"/>
<path d="M142.30,740.00 C142.54,735.42 142.68,721.67 143.75,712.50 C144.82,703.33 146.67,693.75 148.75,685.00 C150.83,676.25 153.54,667.29 156.25,660.00 C158.96,652.71 161.04,647.55 165.00,641.25 C168.96,634.95 177.50,625.38 180.00,622.20" stroke="#b78c8c" stroke-width="1.0"/>
<path d="M231.70,590.00 C233.92,589.33 237.78,587.95 245.00,586.00 C252.22,584.05 264.50,580.30 275.00,578.30 C285.50,576.30 296.88,575.10 308.00,574.00 C319.12,572.90 331.70,571.92 341.70,571.70 C351.70,571.48 359.67,571.77 368.00,572.70 C376.33,573.63 385.53,575.53 391.70,577.30 C397.87,579.07 402.78,582.30 405.00,583.30" stroke="#b78c8c" stroke-width="1.0"/>
<path d="M405.00,583.30 L414.30,589.30 L423.50,590.00 L439.00,584.70 L457.40,579.50 L479.00,576.40 L497.50,577.60 L519.00,574.50 L540.70,570.20 L562.30,563.00 L582.50,554.80" stroke="#b78c8c" stroke-width="1.0"/>
<path d="M180.00,622.20 L231.70,590.00" stroke="#b78c8c" stroke-width="1.0"/>
<path d="M116.00,807.00 L125.50,782.00 L142.00,753.50" stroke="#b78c8c" stroke-width="1.0"/>
<path d="M142.00,753.50 L142.30,740.00" stroke="#b78c8c" stroke-width="1.0"/>
<path d="M405.00,656.70 L408.30,661.00 L414.30,664.00 L423.50,667.00 L439.00,663.30 L457.40,660.30 L469.80,659.60 L497.50,664.00 L519.00,664.00 L540.70,661.20 L562.30,654.10 L582.50,647.30" stroke="#000" stroke-width="2.0" stroke-linecap="round"/>
<path d="M111.40,904.40 C111.67,901.67 112.17,893.40 113.00,888.00 C113.83,882.60 115.83,874.67 116.40,872.00" stroke="#000" stroke-width="2.0" stroke-linecap="round"/>
<path d="M116.40,872.00 C117.67,869.00 121.07,860.00 124.00,854.00 C126.93,848.00 131.33,840.50 134.00,836.00 C136.67,831.50 138.75,829.67 140.00,827.00 C141.25,824.33 141.25,821.17 141.50,820.00" stroke="#000" stroke-width="2.0" stroke-linecap="round"/>
<path d="M141.50,820.00 C141.58,816.67 141.75,806.67 142.00,800.00 C142.25,793.33 142.50,786.67 143.00,780.00 C143.50,773.33 144.08,766.67 145.00,760.00 C145.92,753.33 147.42,746.67 148.50,740.00 C149.58,733.33 149.79,727.50 151.50,720.00 C153.21,712.50 156.08,702.29 158.75,695.00 C161.42,687.71 163.96,681.98 167.50,676.25 C171.04,670.52 177.92,663.21 180.00,660.60" stroke="#000" stroke-width="2.0" stroke-linecap="round"/>
<path d="M180.00,660.60 C188.58,655.40 222.92,634.60 231.50,629.40" stroke="#000" stroke-width="2.0" stroke-linecap="round"/>
<path d="M231.70,629.30 C233.92,628.92 240.62,627.78 245.00,627.00 C249.38,626.22 250.22,625.32 258.00,624.60 C265.78,623.88 280.53,622.92 291.70,622.70 C302.87,622.48 313.95,622.37 325.00,623.30 C336.05,624.23 349.67,626.35 358.00,628.30 C366.33,630.25 369.38,632.22 375.00,635.00 C380.62,637.78 386.70,641.38 391.70,645.00 C396.70,648.62 402.78,654.75 405.00,656.70" stroke="#000" stroke-width="2.0" stroke-linecap="round"/>
<path d="M140.00,827.40 L191.70,691.00 L201.00,656.00 L201.70,635.00 L204.30,635.00 L244.80,634.20 L244.80,618.60 L255.00,610.00 L255.40,605.00 L259.20,601.30 L263.75,599.20 L267.10,602.50 L371.70,693.30 L373.30,704.30 L384.00,671.70 L385.00,650.70 L400.00,656.00 L401.70,640.00 L401.70,694.00 L403.30,677.30 L408.30,661.00" stroke="#000" stroke-width="1.25"/>
<path d="M258.75,603 V630 M262.5,603.75 L264.2,634.6 M266.25,603 V634.6 M258.2,618.6 L258.75,629.6 M263.3,634.6 H266.25" stroke="#000" stroke-width="1.2"/>
<path d="M408.3,661 L453,851" stroke="#000" stroke-width="1.1" stroke-dasharray="5,3"/>
<path d="M435.80,697.30 L474.40,697.30 L509.80,626.30 L517.00,637.70 L520.60,772.20 L530.80,611.20 L582.50,850.00" stroke="#b78c8c" stroke-width="1.0"/>
</g>
<circle cx="140.00" cy="827.40" r="3.15" fill="#000"/>
<circle cx="191.70" cy="691.00" r="3.15" fill="#000"/>
<circle cx="201.00" cy="656.00" r="3.15" fill="#000"/>
<circle cx="201.70" cy="635.00" r="3.15" fill="#000"/>
<circle cx="204.30" cy="635.00" r="3.15" fill="#000"/>
<circle cx="244.80" cy="634.20" r="3.15" fill="#000"/>
<circle cx="244.80" cy="618.60" r="3.15" fill="#000"/>
<circle cx="255.00" cy="610.00" r="3.15" fill="#000"/>
<circle cx="255.40" cy="605.00" r="3.15" fill="#000"/>
<circle cx="259.20" cy="601.30" r="3.15" fill="#000"/>
<circle cx="263.75" cy="599.20" r="3.15" fill="#000"/>
<circle cx="267.10" cy="602.50" r="3.15" fill="#000"/>
<circle cx="371.70" cy="693.30" r="3.15" fill="#000"/>
<circle cx="373.30" cy="704.30" r="3.15" fill="#000"/>
<circle cx="384.00" cy="671.70" r="3.15" fill="#000"/>
<circle cx="385.00" cy="650.70" r="3.15" fill="#000"/>
<circle cx="400.00" cy="656.00" r="3.15" fill="#000"/>
<circle cx="401.70" cy="640.00" r="3.15" fill="#000"/>
<circle cx="401.70" cy="694.00" r="3.15" fill="#000"/>
<circle cx="403.30" cy="677.30" r="3.15" fill="#000"/>
<circle cx="408.30" cy="661.00" r="3.15" fill="#000"/>
<circle cx="262.50" cy="603.75" r="3.15" fill="#000"/>
<circle cx="266.25" cy="610.80" r="3.15" fill="#000"/>
<circle cx="258.20" cy="618.60" r="3.15" fill="#000"/>
<circle cx="265.80" cy="623.75" r="3.15" fill="#000"/>
<circle cx="258.75" cy="629.60" r="3.15" fill="#000"/>
<circle cx="265.80" cy="629.20" r="3.15" fill="#000"/>
<circle cx="263.30" cy="634.60" r="3.15" fill="#000"/>
<circle cx="266.25" cy="634.60" r="3.15" fill="#000"/>
<rect x="507.10" y="623.60" width="5.4" height="5.4" fill="#b78c8c"/>
<rect x="514.30" y="635.00" width="5.4" height="5.4" fill="#b78c8c"/>
<rect x="517.90" y="769.50" width="5.4" height="5.4" fill="#b78c8c"/>
<rect x="528.10" y="608.50" width="5.4" height="5.4" fill="#b78c8c"/>
<rect x="436.1" y="688.9" width="4.4" height="4.4" fill="#fff" stroke="#b78c8c" stroke-width="1"/>
<rect x="469.1" y="688.9" width="4.4" height="4.4" fill="#fff" stroke="#b78c8c" stroke-width="1"/>
<g stroke="#000" stroke-width="1.1" fill="none">
<rect x="47.5" y="530.5" width="535.0" height="374.5"/>
<path d="M54.50,530.5 v10.5 M54.50,905.0 v-10.5 M98.50,530.5 v5.2 M98.50,905.0 v-5.2 M142.50,530.5 v10.5 M142.50,905.0 v-10.5 M186.50,530.5 v5.2 M186.50,905.0 v-5.2 M230.50,530.5 v10.5 M230.50,905.0 v-10.5 M274.50,530.5 v5.2 M274.50,905.0 v-5.2 M318.50,530.5 v10.5 M318.50,905.0 v-10.5 M362.50,530.5 v5.2 M362.50,905.0 v-5.2 M406.50,530.5 v10.5 M406.50,905.0 v-10.5 M450.50,530.5 v5.2 M450.50,905.0 v-5.2 M494.50,530.5 v10.5 M494.50,905.0 v-10.5 M538.50,530.5 v5.2 M538.50,905.0 v-5.2 M47.5,557.25 h5.2 M582.5,557.25 h-5.2 M47.5,584.00 h10.5 M582.5,584.00 h-10.5 M47.5,610.75 h5.2 M582.5,610.75 h-5.2 M47.5,637.50 h10.5 M582.5,637.50 h-10.5 M47.5,664.25 h5.2 M582.5,664.25 h-5.2 M47.5,691.00 h10.5 M582.5,691.00 h-10.5 M47.5,717.75 h5.2 M582.5,717.75 h-5.2 M47.5,744.50 h10.5 M582.5,744.50 h-10.5 M47.5,771.25 h5.2 M582.5,771.25 h-5.2 M47.5,798.00 h10.5 M582.5,798.00 h-10.5 M47.5,824.75 h5.2 M582.5,824.75 h-5.2 M47.5,851.50 h10.5 M582.5,851.50 h-10.5 M47.5,878.25 h5.2 M582.5,878.25 h-5.2 "/>
</g>
<g font-family="Liberation Serif, serif" fill="#000">
<g font-size="14.8" text-anchor="end">
<text x="42.5" y="536.00">10</text>
<text x="42.5" y="589.50">11</text>
<text x="42.5" y="643.00">12</text>
<text x="42.5" y="696.50">13</text>
<text x="42.5" y="750.00">14</text>
<text x="42.5" y="803.50">15</text>
<text x="42.5" y="857.00">16</text>
<text x="42.5" y="910.50">17</text>
</g>
<g font-size="15" text-anchor="middle">
<text x="54.50" y="920.9">0</text>
<text x="142.50" y="920.9">500</text>
<text x="230.50" y="920.9">1000</text>
<text x="318.50" y="920.9">1500</text>
<text x="406.50" y="920.9">2000</text>
<text x="494.50" y="920.9">2500</text>
<text x="582.50" y="920.9">3000</text>
</g>
<text x="231" y="939.7" font-size="20.8" id="xl2">time (JD 2421000+)</text>
<text transform="translate(18.4,803) rotate(-90)" font-size="21" id="yl3">Apparent magnitude</text>
<text x="258.8" y="756.8" font-size="22.3" id="t2">V605 Aql</text>
<text x="213.8" y="667.3" font-size="22">B</text>
<text x="438.8" y="612.3" font-size="22" fill="#b78c8c">V</text>
<text x="338" y="870.6" font-size="14.4" id="an">T<tspan font-size="10" dy="6.3">eff</tspan><tspan font-size="10.4" dy="-15.3" dx="1.6">1921</tspan><tspan dy="9" dx="1.6">~5000 K</tspan></text>
</g>
<path d="M363.6,880.8 L406.4,880.8 M367.6,877.8 L363.2,880.8 L367.6,883.8 M402.4,877.8 L406.8,880.8 L402.4,883.8" stroke="#000" stroke-width="1" fill="none"/>
</svg>
</body></html>
